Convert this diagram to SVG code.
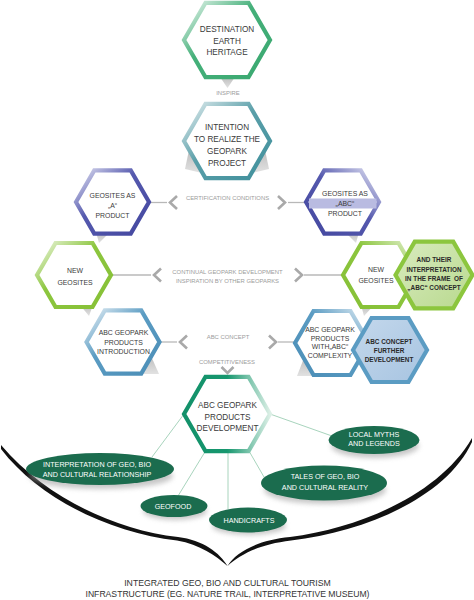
<svg xmlns="http://www.w3.org/2000/svg" width="474" height="600" viewBox="0 0 474 600">
<defs>
<linearGradient id="gTop" x1="0" y1="0" x2="1" y2="1"><stop offset="0" stop-color="#eaf6ef"/><stop offset="0.42" stop-color="#45b07a"/><stop offset="1" stop-color="#3aa870"/></linearGradient>
<linearGradient id="gInt" x1="0" y1="0" x2="1" y2="1"><stop offset="0" stop-color="#e4eef0"/><stop offset="0.45" stop-color="#5a9fa9"/><stop offset="1" stop-color="#3f8f9b"/></linearGradient>
<linearGradient id="gGeoL" x1="0" y1="0" x2="1" y2="1"><stop offset="0" stop-color="#e2e3f3"/><stop offset="0.42" stop-color="#5559ae"/><stop offset="1" stop-color="#43479f"/></linearGradient>
<linearGradient id="gGeoR" x1="0" y1="1" x2="1" y2="0"><stop offset="0" stop-color="#43479f"/><stop offset="0.55" stop-color="#5559ae"/><stop offset="1" stop-color="#e2e3f3"/></linearGradient>
<linearGradient id="gNewL" x1="0" y1="0" x2="1" y2="1"><stop offset="0" stop-color="#eef6e2"/><stop offset="0.42" stop-color="#8cc63e"/><stop offset="1" stop-color="#86c036"/></linearGradient>
<linearGradient id="gNewR" x1="0" y1="1" x2="1" y2="0"><stop offset="0" stop-color="#86c036"/><stop offset="0.6" stop-color="#8cc63e"/><stop offset="1" stop-color="#e3f0d0"/></linearGradient>
<linearGradient id="gAbcL" x1="0" y1="0" x2="1" y2="1"><stop offset="0" stop-color="#e6eff5"/><stop offset="0.42" stop-color="#5b9cc3"/><stop offset="1" stop-color="#4a8db6"/></linearGradient>
<linearGradient id="gAbcR" x1="0" y1="1" x2="1" y2="0"><stop offset="0" stop-color="#4a8db6"/><stop offset="0.6" stop-color="#5b9cc3"/><stop offset="1" stop-color="#dce9f2"/></linearGradient>
<linearGradient id="gDev" x1="0" y1="0" x2="1" y2="0"><stop offset="0" stop-color="#13916a"/><stop offset="0.5" stop-color="#16976e"/><stop offset="1" stop-color="#dcefe6"/></linearGradient>
<linearGradient id="fGreen" x1="0" y1="0" x2="1" y2="1"><stop offset="0" stop-color="#d9ebbf"/><stop offset="1" stop-color="#b8d98e"/></linearGradient>
<linearGradient id="fBlue" x1="0" y1="0" x2="1" y2="1"><stop offset="0" stop-color="#c4d8ec"/><stop offset="1" stop-color="#a7c4e1"/></linearGradient>
<linearGradient id="gTab" x1="0" y1="0" x2="0" y2="1"><stop offset="0" stop-color="#bdbdbd"/><stop offset="1" stop-color="#e2e2e2"/></linearGradient>
<filter id="blur" x="-20%" y="-50%" width="140%" height="200%"><feGaussianBlur stdDeviation="2.5"/></filter>
</defs>
<style>
.hex{fill:#fff;stroke-width:4.2;stroke-linejoin:miter}
.t{font-family:"Liberation Sans",Arial,sans-serif;fill:#3a3a3a;text-anchor:middle}
.big{font-size:8.2px}
.sm{font-size:6.9px}
.b{font-family:"Liberation Sans",Arial,sans-serif;font-weight:bold;font-size:6.4px;fill:#2a2a2a;text-anchor:middle}
.lbl{font-family:"Liberation Sans",Arial,sans-serif;font-size:5.9px;fill:#9c9c9c;text-anchor:middle}
.ln{stroke:#b8b8b8;stroke-width:1.3;fill:none}
.chev{stroke:#a9a9a9;stroke-width:2.6;fill:none;stroke-linejoin:miter}
.tab{fill:url(#gTab)}
.spoke{stroke:#a8d4bd;stroke-width:1;fill:none}
.ell{fill:#1b6c4e}
.sh{fill:#9a9a9a;opacity:0.55;filter:url(#blur)}
.et{font-family:"Liberation Sans",Arial,sans-serif;font-size:7.2px;fill:#ffffff;text-anchor:middle}
.bt{font-family:"Liberation Sans",Arial,sans-serif;font-size:8.7px;fill:#333;text-anchor:middle}
</style>
<rect width="474" height="600" fill="#ffffff"/>

<g id="tabs">
<polygon class="tab" points="220,77 235,77 227.5,88"/>
<polygon class="tab" points="189,150 202,173 185,169"/>
<polygon class="tab" points="265,150 252,173 269,169"/>
<polygon class="tab" points="96,232 110,232 99,243"/>
<polygon class="tab" points="345,232 359,232 356,243"/>
<polygon class="tab" points="80,305 93,305 89,316"/>
<polygon class="tab" points="361,305 374,305 364,316"/>
<polygon class="tab" points="151,356 159,374 143,374"/>
<polygon class="tab" points="304,358 297,376 312,376"/>
</g>

<g id="connectors">
<line class="ln" x1="149" y1="202.5" x2="167" y2="202.5"/>
<line class="ln" x1="288" y1="202.5" x2="306" y2="202.5"/>
<polyline class="chev" points="177,196 170,202.5 177,209"/>
<polyline class="chev" points="278,196 285,202.5 278,209"/>
<line class="ln" x1="111" y1="275" x2="151" y2="275"/>
<line class="ln" x1="304" y1="275" x2="343" y2="275"/>
<polyline class="chev" points="161,268.5 154,275 161,281.5"/>
<polyline class="chev" points="295,268.5 302,275 295,281.5"/>
<line class="ln" x1="159.5" y1="342" x2="177" y2="342"/>
<line class="ln" x1="278" y1="342" x2="295" y2="342"/>
<polyline class="chev" points="187,335.5 180,342 187,348.5"/>
<polyline class="chev" points="269,335.5 276,342 269,348.5"/>
<polyline class="chev" points="221.5,367 227.5,373 233.5,367"/>
<text class="lbl" x="228" y="95" font-size="6.2px">INSPIRE</text>
<text class="lbl" x="227.5" y="200">CERTIFICATION CONDITIONS</text>
<text class="lbl" x="227.5" y="274.3">CONTINUAL GEOPARK DEVELOPMENT</text>
<text class="lbl" x="227.5" y="283.3">INSPIRATION BY OTHER GEOPARKS</text>
<text class="lbl" x="228" y="339.3">ABC CONCEPT</text>
<text class="lbl" x="227" y="364.3">COMPETITIVENESS</text>
<line class="spoke" x1="184" y1="414" x2="152" y2="457"/>
<line class="spoke" x1="205.5" y1="451" x2="178" y2="496"/>
<line class="spoke" x1="228" y1="451" x2="228" y2="509"/>
<line class="spoke" x1="249" y1="451" x2="264" y2="477"/>
<line class="spoke" x1="270" y1="414" x2="332" y2="436"/>
</g>

<g id="n-destination">
<polygon class="hex" stroke="url(#gTop)" points="184,40 205.5,2.8 248.5,2.8 270,40 248.5,77.2 205.5,77.2"/>
<text class="t big" x="227" y="32">DESTINATION</text>
<text class="t big" x="227" y="43.7">EARTH</text>
<text class="t big" x="227" y="55.3">HERITAGE</text>
</g>

<g id="n-intention">
<polygon class="hex" stroke="url(#gInt)" points="184,141 205.5,103.8 248.5,103.8 270,141 248.5,178.2 205.5,178.2"/>
<text class="t big" x="227" y="130">INTENTION</text>
<text class="t big" x="227" y="142">TO REALIZE THE</text>
<text class="t big" x="227" y="154">GEOPARK</text>
<text class="t big" x="227" y="165.8">PROJECT</text>
</g>

<g id="n-geosites-a">
<polygon class="hex" stroke="url(#gGeoL)" points="76,202 94.25,170.4 130.75,170.4 149,202 130.75,233.6 94.25,233.6"/>
<text class="t sm" x="112.5" y="197.5">GEOSITES AS</text>
<text class="t sm" x="112.5" y="207.5">„A“</text>
<text class="t sm" x="112.5" y="217.7">PRODUCT</text>
</g>

<g id="n-geosites-abc">
<polygon class="hex" stroke="url(#gGeoR)" points="306,202 324.25,170.4 360.75,170.4 379,202 360.75,233.6 324.25,233.6"/>
<rect x="309" y="198.5" width="67.5" height="10" fill="#b9bbe1"/>
<text class="t sm" x="345" y="195.5">GEOSITES AS</text>
<text class="t sm" x="345" y="206">„ABC“</text>
<text class="t sm" x="345" y="215.7">PRODUCT</text>
</g>

<g id="n-new-geosites-left">
<polygon class="hex" stroke="url(#gNewL)" points="37,275 55.5,243 92.5,243 111,275 92.5,307 55.5,307"/>
<text class="t sm" x="75" y="273">NEW</text>
<text class="t sm" x="75" y="284.5">GEOSITES</text>
</g>

<g id="n-new-geosites-right">
<polygon class="hex" stroke="url(#gNewR)" points="343,275 361.5,243 398.5,243 417,275 398.5,307 361.5,307"/>
<text class="t sm" x="376" y="272">NEW</text>
<text class="t sm" x="376" y="283">GEOSITES</text>
</g>

<g id="n-interpretation-abc">
<polygon fill="url(#fGreen)" stroke="#8cc63e" stroke-width="4.2" points="395.5,275 414.75,241.7 453.25,241.7 472.5,275 453.25,308.3 414.75,308.3"/>
<text class="b" x="434" y="262.3">AND THEIR</text>
<text class="b" x="434" y="271.5">INTERPRETATION</text>
<text class="b" x="434" y="280.6">IN THE FRAME&#160; OF</text>
<text class="b" x="434" y="290">„ABC“ CONCEPT</text>
</g>

<g id="n-abc-introduction">
<polygon class="hex" stroke="url(#gAbcL)" points="86.5,342 104.75,310.4 141.25,310.4 159.5,342 141.25,373.6 104.75,373.6"/>
<text class="t sm" x="123.5" y="335.2" font-size="6.6px">ABC GEOPARK</text>
<text class="t sm" x="123.5" y="344.7" font-size="6.6px">PRODUCTS</text>
<text class="t sm" x="123.5" y="354.2" font-size="6.6px">INTRODUCTION</text>
</g>

<g id="n-abc-complexity">
<polygon class="hex" stroke="url(#gAbcR)" points="295,343 313.5,311 350.5,311 369,343 350.5,375 313.5,375"/>
<text class="t sm" x="330" y="332.2" font-size="6.6px">ABC GEOPARK</text>
<text class="t sm" x="330" y="340.8" font-size="6.6px">PRODUCTS</text>
<text class="t sm" x="330" y="349.3" font-size="6.6px">WITH„ABC“</text>
<text class="t sm" x="330" y="358.2" font-size="6.6px">COMPLEXITY</text>
</g>

<g id="n-abc-further">
<polygon fill="url(#fBlue)" stroke="#5b9cc3" stroke-width="4.2" points="353,350 371.5,318 408.5,318 427,350 408.5,382 371.5,382"/>
<text class="b" x="389" y="344.3">ABC CONCEPT</text>
<text class="b" x="389" y="353">FURTHER</text>
<text class="b" x="389" y="361.7">DEVELOPMENT</text>
</g>

<g id="n-abc-development">
<polygon class="hex" stroke="url(#gDev)" points="184,414 205.5,376.8 248.5,376.8 270,414 248.5,451.2 205.5,451.2"/>
<text class="t big" x="227.5" y="408">ABC GEOPARK</text>
<text class="t big" x="227.5" y="419.6">PRODUCTS</text>
<text class="t big" x="227.5" y="431.2">DEVELOPMENT</text>
</g>

<g id="n-base">
<path fill="#111" d="M1,445 C45,497 115,530 178,537 C203,540 220,553 227.5,566 C216,556 200,544.5 177,540.5 C112,533 40,500 1,449 Z"/>
<path fill="#111" d="M472,438 C440,494 360,528 290,537 C258,540 236,552 227.5,566 C240,555 258,544.5 291,540.5 C364,532 446,498 472,442 Z"/>
<text class="bt" x="227.5" y="586">INTEGRATED GEO, BIO AND CULTURAL TOURISM</text>
<text class="bt" x="227.5" y="597" textLength="284" lengthAdjust="spacingAndGlyphs">INFRASTRUCTURE (EG. NATURE TRAIL, INTERPRETATIVE MUSEUM)</text>
</g>

<g id="n-local-myths">
<ellipse class="sh" cx="375" cy="446" rx="44" ry="12"/>
<ellipse class="ell" cx="374" cy="440" rx="45.5" ry="14"/>
<text class="et" x="374" y="436.5">LOCAL MYTHS</text>
<text class="et" x="374" y="446">AND LEGENDS</text>
</g>

<g id="n-interpretation">
<ellipse class="sh" cx="101" cy="476" rx="72" ry="13"/>
<ellipse class="ell" cx="100" cy="469" rx="74" ry="16"/>
<text class="et" x="97" y="466.5" font-size="6.8px">INTERPRETATION OF GEO, BIO</text>
<text class="et" x="97" y="476.7" font-size="6.8px">AND CULTURAL RELATIONSHIP</text>
</g>

<g id="n-tales">
<ellipse class="sh" cx="325" cy="490" rx="61" ry="14"/>
<ellipse class="ell" cx="324" cy="483" rx="63" ry="17.5"/>
<text class="et" x="325" y="479">TALES OF GEO, BIO</text>
<text class="et" x="325" y="489.7">AND CULTURAL REALITY</text>
</g>

<g id="n-geofood">
<ellipse class="sh" cx="175" cy="511" rx="32" ry="9"/>
<ellipse class="ell" cx="174" cy="506" rx="33.5" ry="11"/>
<text class="et" x="173" y="508.8">GEOFOOD</text>
</g>

<g id="n-handicrafts">
<ellipse class="sh" cx="249" cy="526" rx="37" ry="9"/>
<ellipse class="ell" cx="248" cy="520" rx="39" ry="12.5"/>
<text class="et" x="249" y="522.5">HANDICRAFTS</text>
</g>
</svg>
